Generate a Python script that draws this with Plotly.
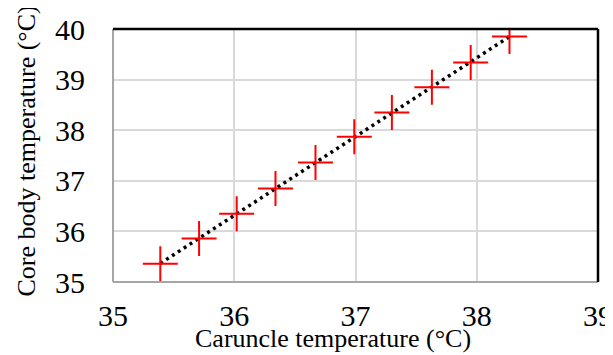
import numpy as np
import plotly.graph_objects as go

caruncle_temp = [35.39, 35.71, 36.02, 36.34, 36.67, 36.99, 37.30, 37.63, 37.95, 38.27]
core_temp = [35.36, 35.86, 36.35, 36.85, 37.36, 37.87, 38.35, 38.85, 39.34, 39.85]
x_ticks = [35, 36, 37, 38, 39]
y_ticks = [35, 36, 37, 38, 39, 40]

slope, intercept = np.polyfit(caruncle_temp, core_temp, 1)
trend_x = [min(caruncle_temp), max(caruncle_temp)]
trend_y = [slope * v + intercept for v in trend_x]

FONT = "Times New Roman, Liberation Serif, DejaVu Serif, serif"

# page body has an 8px margin: compensate so the plot area lands where it should
OFF = 8
fig = go.Figure()
fig.add_trace(go.Scatter(
    x=trend_x, y=trend_y, mode="lines",
    line=dict(color="black", width=3.5, dash="3px,4px"),
    showlegend=False, hoverinfo="skip"))
fig.add_trace(go.Scatter(
    x=caruncle_temp, y=core_temp, mode="markers",
    marker=dict(symbol="cross-thin", size=25, line=dict(color="#FF0000", width=2)),
    showlegend=False))

fig.update_layout(
    width=613 - OFF, height=355 - OFF,
    margin=dict(l=113 - OFF, r=15, t=29 - OFF, b=73, autoexpand=False),
    paper_bgcolor="white", plot_bgcolor="white",
    font=dict(family=FONT, size=26, color="black"),
    xaxis=dict(range=[35, 39], tickvals=x_ticks, ticktext=[str(v) for v in x_ticks],
               showgrid=True, gridcolor="#D9D9D9", gridwidth=1.5,
               showline=False, zeroline=False, automargin=False,
               ticks="outside", ticklen=7, tickcolor="rgba(0,0,0,0)",
               ticklabeloverflow="allow",
               tickfont=dict(family=FONT, size=30)),
    yaxis=dict(range=[35, 40], tickvals=y_ticks, ticktext=[str(v) for v in y_ticks],
               showgrid=True, gridcolor="#D9D9D9", gridwidth=1.5,
               showline=False, zeroline=False, automargin=False,
               ticks="outside", ticklen=21, tickcolor="rgba(0,0,0,0)",
               ticklabeloverflow="allow",
               tickfont=dict(family=FONT, size=30)),
    shapes=[
        dict(type="line", xref="paper", yref="paper", x0=0, x1=0, y0=0, y1=1,
             line=dict(color="#A6A6A6", width=2)),
        dict(type="line", xref="paper", yref="paper", x0=0, x1=1, y0=0, y1=0,
             line=dict(color="#A6A6A6", width=2)),
        dict(type="line", xref="paper", yref="paper", x0=0, x1=1, y0=1, y1=1,
             line=dict(color="black", width=2.5)),
        dict(type="line", xref="paper", yref="paper", x0=1, x1=1, y0=0, y1=1,
             line=dict(color="black", width=2.5)),
    ],
    annotations=[
        dict(text="Caruncle temperature (°C)", xref="paper", yref="paper",
             x=(333 - 113) / 485, y=-(338 - 282) / 253, xanchor="center", yanchor="middle",
             showarrow=False, font=dict(family=FONT, size=26)),
        dict(text="Core body temperature (°C)", xref="paper", yref="paper",
             x=-(113 - 26) / 485, y=(282 - 151.5) / 253, xanchor="center", yanchor="middle",
             textangle=-90, showarrow=False, font=dict(family=FONT, size=26)),
    ],
)

fig.write_html("out.html")
